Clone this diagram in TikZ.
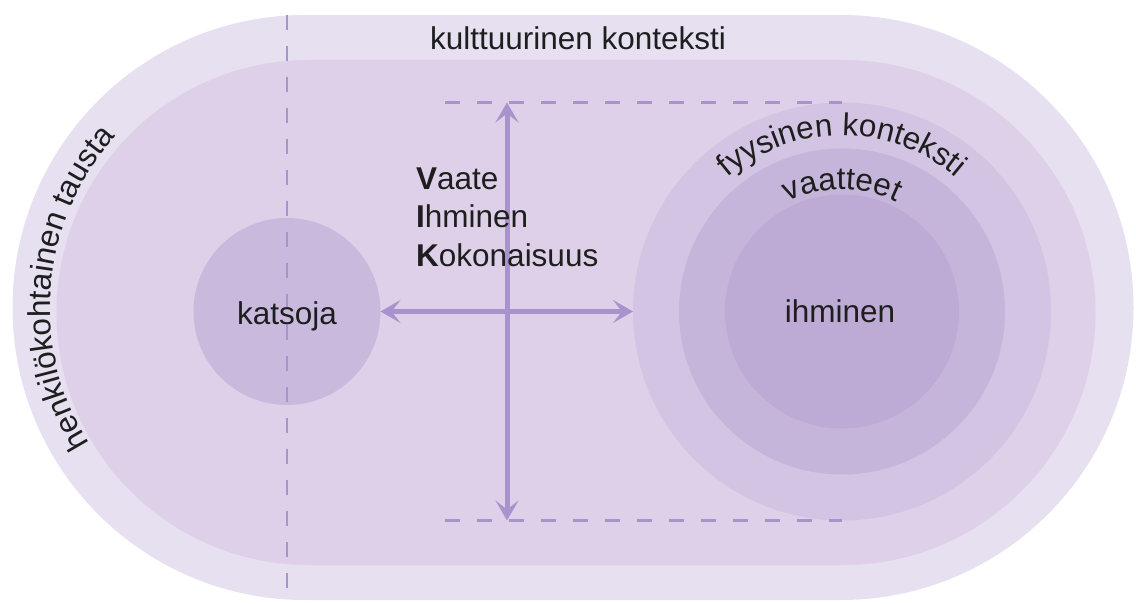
\documentclass[tikz,border=0pt]{standalone}
\usepackage{fontspec}
\setmainfont{Liberation Sans}
\usetikzlibrary{arrows.meta,decorations.text}
\definecolor{bandout}{HTML}{E7E0F0}
\definecolor{bandin}{HTML}{DDD0E8}
\definecolor{katcol}{HTML}{C9BADD}
\definecolor{fyyscol}{HTML}{D2C4E2}
\definecolor{vaatcol}{HTML}{C5B5DA}
\definecolor{ihmcol}{HTML}{BDAAD5}
\definecolor{arrowcol}{HTML}{A893CC}
\definecolor{ink}{HTML}{1E1E1E}
\newcommand{\lblfont}{\fontsize{31.5}{38}\selectfont}
\begin{document}
\begin{tikzpicture}[x=1pt,y=1pt,
    disc/.style={circle,inner sep=0pt,outer sep=0pt},
    lbl/.style={font=\lblfont,text=ink,inner sep=0pt,anchor=base},
    guide/.style={draw=arrowcol,line width=2.5pt,dash pattern=on 15pt off 17pt},
    axis/.style={draw=arrowcol,line width=5pt,
        arrows={Stealth[length=20pt,width=23pt,inset=9pt]-Stealth[length=20pt,width=23pt,inset=9pt]}}]
    \useasboundingbox (0,0) rectangle (1136,603);
    % taustat
    \fill[bandout] (305,3) -- (841,3) arc[start angle=-90,end angle=90,radius=292.5]
        -- (305,588) arc[start angle=90,end angle=270,radius=292.5] -- cycle;
    \fill[bandin] (309,38) -- (843,38) arc[start angle=-90,end angle=90,radius=252.5]
        -- (309,543) arc[start angle=90,end angle=270,radius=252.5] -- cycle;
    % ympyrat
    \node[disc,fill=katcol,minimum size=187pt] (katsoja) at (287,291.5) {};
    \node[disc,fill=fyyscol,minimum size=418pt] (fyysinen) at (842,291.5) {};
    \node[disc,fill=vaatcol,minimum size=326pt] (vaatteet) at (fyysinen) {};
    \node[disc,fill=ihmcol,minimum size=234pt] (ihminen) at (fyysinen) {};
    \coordinate (raja1) at (287,588);
    \coordinate (raja2) at (287,0);
    \draw[draw=arrowcol,line width=2pt,dash pattern=on 15pt off 16pt] (raja1) -- (raja2);
    \coordinate (gtop) at (445,500.5);
    \coordinate (gbot) at (445,82.5);
    \draw[guide] (gtop) -- (fyysinen.north);
    \draw[guide] (gbot) -- (fyysinen.south);
    \coordinate (vtop) at (507,500.5);
    \coordinate (vbot) at (507,82.5);
    \draw[axis] (vtop) -- (vbot);
    \draw[axis] (katsoja.east) -- (fyysinen.west);
    % tekstit
    \node[lbl] (kult) at (578,553) {kulttuurinen konteksti};
    \node[lbl] (katsojateksti) at (287,278) {katsoja};
    \node[lbl] (ihminenteksti) at (840,280) {ihminen};
    \node[lbl,anchor=base west] (vaate) at (416,413) {\textbf{V}aate};
    \node[lbl,anchor=base west] (ihm) at (416,375) {\textbf{I}hminen};
    \node[lbl,anchor=base west] (kok) at (416,336) {\textbf{K}okonaisuus};
    \path[decorate,decoration={text along path,text align=center,text color=ink,
        text={|\lblfont|henkilökohtainen tausta}}]
        (305,295.5) ++(225:255) arc[start angle=225,end angle=125,radius=255];
    \path[decorate,decoration={text along path,text align=center,text color=ink,
        text={|\lblfont|fyysinen konteksti}}]
        (842,291.5) ++(140:176) arc[start angle=140,end angle=40,radius=176];
    \path[decorate,decoration={text along path,text align=center,text color=ink,
        text={|\lblfont|vaatteet}}]
        (842,291.5) ++(135:122) arc[start angle=135,end angle=45,radius=122];
\end{tikzpicture}
\end{document}
